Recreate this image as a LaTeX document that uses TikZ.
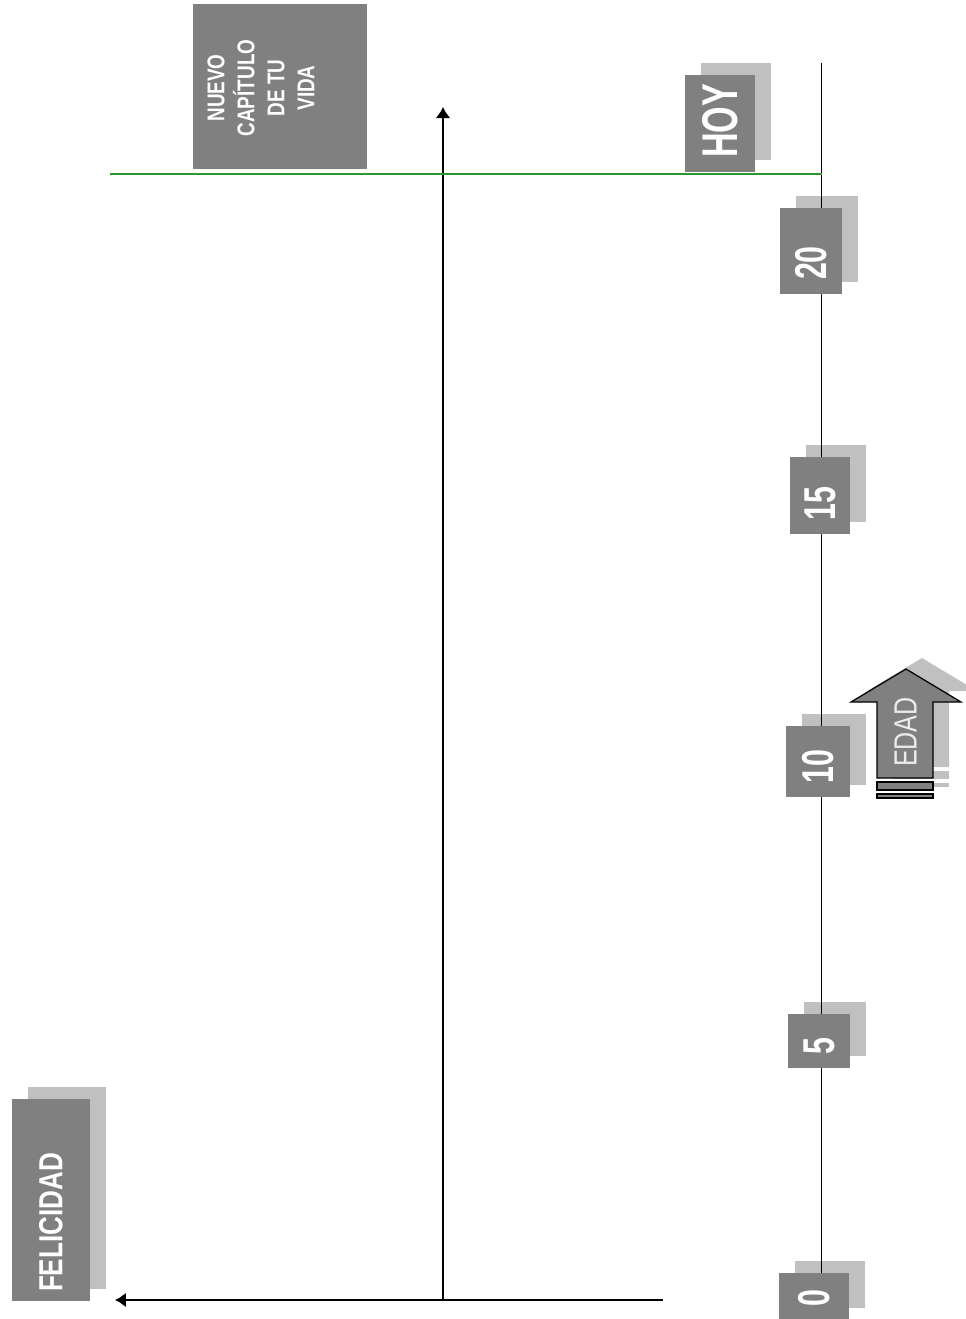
\documentclass[tikz,border=0pt]{standalone}
\usepackage{fontspec}
\newfontfamily\numfont[FakeStretch=0.68]{Liberation Sans}
\newfontfamily\txtfont[FakeStretch=0.78]{Liberation Sans}
\usetikzlibrary{arrows.meta,backgrounds}
\definecolor{boxdark}{RGB}{128,128,128}
\definecolor{boxlight}{RGB}{192,192,192}
\definecolor{hoygreen}{RGB}{46,150,46}
\tikzset{
  agebox/.style={fill=boxdark, text=white, rotate=90, align=left,
    inner ysep=0pt, inner xsep=14*0.569pt,
    font=\numfont\bfseries\fontsize{25.4}{30}\selectfont},
  ageaxis/.style={line width=1.1pt},
  mainarrow/.style={line width=1.5pt, -{Latex[length=11*0.569pt,width=15*0.569pt]}},
  hoyline/.style={hoygreen, line width=1pt},
  edadshadow/.style={fill=boxlight},
  edadfront/.style={fill=boxdark, draw=black, line width=0.7pt}
}
\begin{document}
\begin{tikzpicture}[x=0.02cm, y=-0.02cm]
  \useasboundingbox (0,0) rectangle (965,1319);

  % ejes
  \coordinate (orig) at (443,1300);
  \coordinate (ytop) at (443,107);
  \coordinate (xstart) at (663,1300);
  \coordinate (xtip) at (115,1300);
  \coordinate (axtop) at (821.5,63);
  \coordinate (gstart) at (110,174);

  % cajas de edad
  \foreach \lab/\cx/\cy/\w/\h in {20/811/251/62/86, 15/820/495.5/60/77,
      10/818/761.5/64/71, 5/819/1041/62/54, 0/814/1296.5/70/47}{
    \pgfmathsetmacro\tw{(\h-28)*0.569}
    \node[agebox, minimum width=\h*0.569pt, minimum height=\w*0.569pt,
      text width=\tw pt] (e\lab) at (\cx,\cy) {\lab};
  }
  \pgfmathsetmacro\tw{(97-28)*0.569}
  \node[agebox, minimum width=97*0.569pt, minimum height=70*0.569pt,
    text width=\tw pt, font=\numfont\bfseries\fontsize{28.6}{32}\selectfont]
    (hoy) at (720,123.5) {HOY};
  \pgfmathsetmacro\tw{(202-18)*0.569}
  \node[agebox, minimum width=202*0.569pt, minimum height=78*0.569pt,
    inner xsep=9*0.569pt, text width=\tw pt,
    font=\txtfont\bfseries\fontsize{19}{22}\selectfont]
    (felic) at (51,1200) {FELICIDAD};

  % nuevo capitulo
  \node[fill=boxdark, minimum width=174*0.569pt, minimum height=165*0.569pt]
    (nuevo) at (280,86.5) {};
  \node[rotate=90, anchor=north, inner sep=0pt, align=center, text=white,
    font=\txtfont\bfseries\fontsize{13.8}{17.1}\selectfont]
    (nuevotxt) at (207,88) {NUEVO\\CAPÍTULO\\DE TU\\VIDA};

  \begin{scope}[on background layer]
    \foreach \n in {e20,e15,e10,e5,e0,hoy,felic}
      \fill[boxlight] ([shift={(16,-12)}]\n.south west) rectangle ([shift={(16,-12)}]\n.north east);
    \draw[ageaxis] (axtop) -- (axtop |- e0.north);
  \end{scope}

  \draw[mainarrow] (orig) -- (ytop);
  \draw[mainarrow] (xstart) -- (xtip);
  \draw[hoyline] (gstart) -- (gstart -| axtop);

  % flecha edad
  \foreach \dx/\dy/\sty in {16/-11/edadshadow, 0/0/edadfront}{
    \begin{scope}[shift={(\dx,\dy)}]
      \path[\sty] (906,669) -- (961,702) -- (933,702) -- (933,778)
        -- (877,778) -- (877,702) -- (851,702) -- cycle;
      \path[\sty] (877,782) rectangle (933,790);
      \path[\sty] (877,794) rectangle (933,798);
    \end{scope}
  }
  \node[rotate=90, text=white!92!black, inner sep=0pt,
    font=\txtfont\fontsize{18.3}{20}\selectfont] (edad) at (905.5,732) {EDAD};
\end{tikzpicture}
\end{document}
